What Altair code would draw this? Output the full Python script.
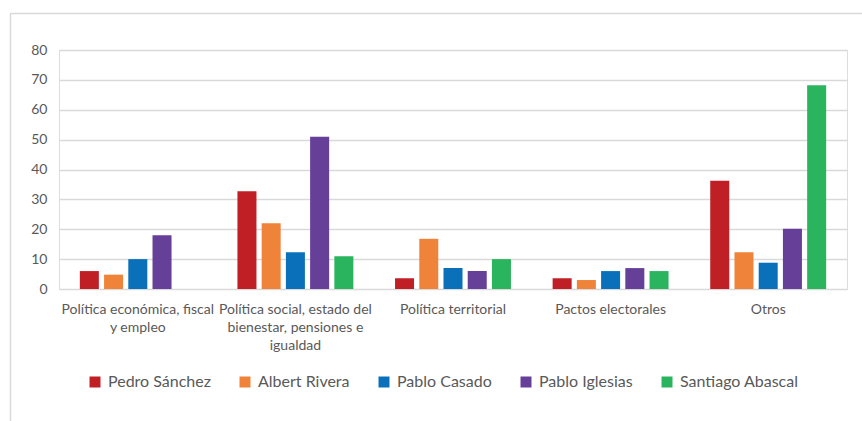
import json
import altair as alt
import pandas as pd

categories = [
    "Política económica, fiscal y empleo",
    "Política social, estado del bienestar, pensiones e igualdad",
    "Política territorial",
    "Pactos electorales",
    "Otros",
]
label_lines = [
    ["Política económica, fiscal", "y empleo"],
    ["Política social, estado del", "bienestar, pensiones e", "igualdad"],
    ["Política territorial"],
    ["Pactos electorales"],
    ["Otros"],
]
series = ["Pedro Sánchez", "Albert Rivera", "Pablo Casado", "Pablo Iglesias", "Santiago Abascal"]
colors = ["#C11F26", "#F0833A", "#0A70BA", "#663F98", "#2BB45E"]

sanchez = [6, 32.7, 3.6, 3.6, 36.2]
rivera = [4.8, 22, 16.8, 3, 12.3]
casado = [10, 12.3, 7, 6, 8.8]
iglesias = [18, 51, 6, 7, 20.2]
abascal = [0, 11, 10, 6, 68.2]

rows = []
for name, vals in zip(series, [sanchez, rivera, casado, iglesias, abascal]):
    for c, v in zip(categories, vals):
        rows.append({"Tema": c, "Candidato": name, "Valor": v})
df = pd.DataFrame(rows)

label_expr = "{}[indexof({}, datum.value)]".format(
    json.dumps(label_lines, ensure_ascii=False), json.dumps(categories, ensure_ascii=False)
)

FONT = "Lato"
GREY = "#595959"

bars = alt.Chart(df).mark_bar().encode(
    x=alt.X(
        "Tema:N",
        sort=categories,
        scale=alt.Scale(paddingInner=0, paddingOuter=0),
        axis=alt.Axis(
            title=None,
            labelAngle=0,
            labelExpr=label_expr,
            labelFontSize=14,
            labelColor=GREY,
            labelFont=FONT,
            labelLineHeight=18,
            labelPadding=13,
            ticks=False,
            domain=False,
            labelLimit=200,
        ),
    ),
    xOffset=alt.XOffset("Candidato:N", sort=series, scale=alt.Scale(paddingInner=0.215, paddingOuter=0.86)),
    y=alt.Y(
        "Valor:Q",
        scale=alt.Scale(domain=[0, 80], nice=False),
        axis=alt.Axis(
            title=None,
            values=list(range(0, 81, 10)),
            labelFontSize=14,
            labelColor=GREY,
            labelFont=FONT,
            labelPadding=12,
            ticks=False,
            domain=False,
            gridColor="#d9d9d9",
            gridWidth=1.3,
        ),
    ),
    color=alt.Color(
        "Candidato:N",
        sort=series,
        scale=alt.Scale(domain=series, range=colors),
        legend=alt.Legend(
            title=None,
            orient="none",
            direction="horizontal",
            legendX=28,
            legendY=324,
            symbolType="square",
            symbolSize=121,
            symbolStrokeWidth=0,
            labelFontSize=16,
            labelFont=FONT,
            labelColor=GREY,
            labelOffset=5,
            columnPadding=26,
        ),
    ),
)

frame_data = alt.Data(values=[{"k": 0}])
left_line = alt.Chart(frame_data).mark_rule(color="#d9d9d9", strokeWidth=1.5).encode(
    x=alt.value(-48.5), y=alt.value(-37), y2=alt.value(380)
)
top_line = alt.Chart(frame_data).mark_rule(color="#d9d9d9", strokeWidth=1.5).encode(
    x=alt.value(-48.5), x2=alt.value(820), y=alt.value(-36.5)
)

chart = alt.layer(left_line, top_line, bars).properties(
    width=788,
    height=239,
    autosize=alt.AutoSizeParams(type="none"),
    padding={"left": 59, "top": 50, "right": 15, "bottom": 132},
).configure_view(stroke=None).configure(background="white")

chart.save("out.html", embed_options={"renderer": "svg", "actions": False})
